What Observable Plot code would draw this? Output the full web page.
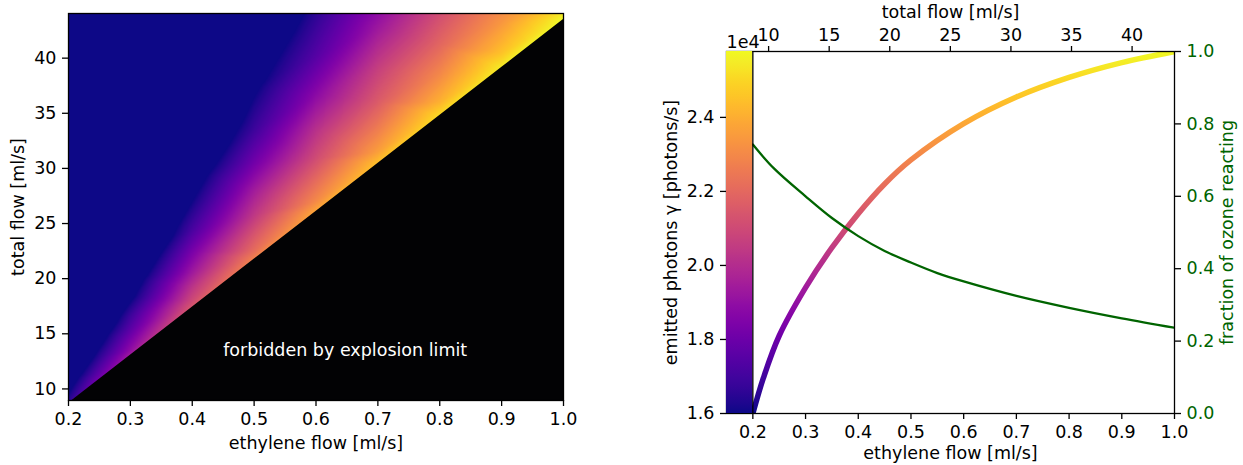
<!DOCTYPE html>
<html>
<head>
<meta charset="utf-8">
<script src="https://cdn.jsdelivr.net/npm/d3@7"></script>
<script src="https://cdn.jsdelivr.net/npm/@observablehq/plot@0.6"></script>
<style>
  html, body { margin: 0; padding: 0; background: #ffffff; }
  #wrap { position: relative; width: 1243px; height: 465px; overflow: hidden; }
  .panel { position: absolute; top: 0; }
</style>
</head>
<body>
<div id="wrap">
  <div id="left" class="panel" style="left:0px"></div>
  <div id="right" class="panel" style="left:620px"></div>
</div>
<script>
// ---------------- data ----------------
const explosionRatio = 43.5; // total flow / ethylene flow at the explosion limit

// Left heat map: samples along rays of constant total/ethylene ratio
const heatEthylene = [0.2, 0.25, 0.3, 0.4, 0.5, 0.6, 0.7, 0.8, 0.9, 1.0];
const heatRatio = [43.5, 45, 48, 51.5, 56, 61, 67, 75, 95, 210];
const heatPhotons = [
  [1.659, 1.824, 1.942, 2.147, 2.283, 2.381, 2.449, 2.508, 2.547, 2.578],
  [1.639, 1.785, 1.893, 2.098, 2.215, 2.303, 2.361, 2.410, 2.449, 2.478],
  [1.600, 1.727, 1.834, 2.029, 2.137, 2.215, 2.264, 2.303, 2.342, 2.371],
  [1.551, 1.659, 1.756, 1.932, 2.039, 2.108, 2.156, 2.195, 2.225, 2.254],
  [1.483, 1.580, 1.678, 1.834, 1.942, 2.010, 2.059, 2.088, 2.117, 2.147],
  [1.405, 1.502, 1.571, 1.717, 1.815, 1.883, 1.932, 1.961],
  [1.307, 1.405, 1.483, 1.610, 1.688, 1.746, 1.795],
  [1.210, 1.288, 1.356, 1.483, 1.571, 1.629],
  [1.014, 1.063, 1.112, 1.210, 1.307],
  [0.624]
];
const heatXTicks = [0.2, 0.3, 0.4, 0.5, 0.6, 0.7, 0.8, 0.9, 1.0];
const heatYTicks = [10, 15, 20, 25, 30, 35, 40];
const heatXDomain = [0.2, 1.0];
const heatYDomain = [8.95, 44.05];
const annotation = {ethylene: 0.45, total: 13, text: "forbidden by explosion limit"};

// Right panel: along the explosion limit
const photonsEthylene = [0.2, 0.22, 0.25, 0.3, 0.35, 0.4, 0.45, 0.5, 0.6, 0.7, 0.8, 0.9, 1.0];
const photons = [1.600, 1.696, 1.810, 1.940, 2.048, 2.140, 2.220, 2.285, 2.383, 2.455, 2.508, 2.548, 2.578]; // x 1e4
const fractionEthylene = [0.2, 0.24, 0.3, 0.35, 0.4, 0.45, 0.5, 0.55, 0.6, 0.7, 0.8, 0.9, 1.0];
const fraction = [0.743, 0.677, 0.600, 0.540, 0.490, 0.449, 0.417, 0.388, 0.365, 0.325, 0.292, 0.263, 0.237];
const rightXDomain = [0.15, 1.0];
const rightXTicks = [0.2, 0.3, 0.4, 0.5, 0.6, 0.7, 0.8, 0.9, 1.0];
const totalTicks = [10, 15, 20, 25, 30, 35, 40];
const photonTicks = [1.6, 1.8, 2.0, 2.2, 2.4];
const fractionTicks = [0.0, 0.2, 0.4, 0.6, 0.8, 1.0];

const labels = {
  ethylene: "ethylene flow [ml/s]",
  total: "total flow [ml/s]",
  photons: "emitted photons γ [photons/s]",
  fraction: "fraction of ozone reacting",
  offset: "1e4"
};

// ---------------- styles ----------------
const FONT = "DejaVu Sans";
const FS = "17.5px";
const GREEN = "#006400";
const SPINE = 1.3;
const style = {fontFamily: FONT, fontSize: FS, color: "black", background: "transparent", overflow: "visible"};

// ---------------- left panel ----------------
const heatSamples = heatRatio.flatMap((r, i) =>
  heatPhotons[i].map((v, j) => ({ethylene: heatEthylene[j], total: r * heatEthylene[j], photons: v}))
);
const boundary = heatEthylene.map(e => ({ethylene: e, total: e * explosionRatio}));

const left = Plot.plot({
  width: 600, height: 465,
  marginLeft: 68, marginRight: 37, marginTop: 13, marginBottom: 65,
  style,
  x: {domain: heatXDomain},
  y: {domain: heatYDomain},
  color: {type: "linear", scheme: "plasma", domain: [d3.min(photons), d3.max(photons)], clamp: true},
  marks: [
    Plot.raster(heatSamples, {x: "ethylene", y: "total", fill: "photons", interpolate: "barycentric"}),
    Plot.areaY(boundary, {x: "ethylene", y1: 0, y2: "total", fill: "#020204", clip: true}),
    Plot.text([annotation], {x: "ethylene", y: "total", text: "text", fill: "white", textAnchor: "start", lineAnchor: "bottom"}),
    Plot.frame({stroke: "black", strokeWidth: SPINE}),
    Plot.axisX(heatXTicks, {tickFormat: d3.format(".1f"), tickSize: 6, tickPadding: 6, strokeWidth: SPINE, label: null}),
    Plot.axisY(heatYTicks, {tickSize: 6, tickPadding: 6, strokeWidth: SPINE, label: null}),
    Plot.text([labels.ethylene], {text: d => d, frameAnchor: "bottom", dy: 43, textAnchor: "middle", lineAnchor: "middle"}),
    Plot.text([labels.total], {text: d => d, frameAnchor: "left", dx: -50.5, rotate: -90, textAnchor: "middle", lineAnchor: "middle"})
  ]
});
document.getElementById("left").appendChild(left);

// ---------------- right panel ----------------
const yMin = d3.min(photons), yMax = d3.max(photons);
const toY = f => yMin + f * (yMax - yMin);
const curveData = photonsEthylene.map((e, i) => ({ethylene: e, photons: photons[i]}));
const greenData = fractionEthylene.map((e, i) => ({ethylene: e, y: toY(fraction[i])}));
const colorbar = [{x1: rightXDomain[0], x2: photonsEthylene[0], y1: yMin, y2: yMax}];

function plasmaDefs() {
  const defs = d3.create("svg:defs");
  const g = defs.append("linearGradient").attr("id", "plasmaV")
    .attr("x1", 0).attr("y1", 1).attr("x2", 0).attr("y2", 0);
  for (let i = 0; i <= 40; i++) {
    g.append("stop").attr("offset", i / 40).attr("stop-color", d3.interpolatePlasma(i / 40));
  }
  return defs.node();
}

const right = Plot.plot({
  width: 623, height: 465,
  marginLeft: 106, marginRight: 69, marginTop: 51, marginBottom: 52,
  style,
  x: {domain: rightXDomain},
  y: {domain: [yMin, yMax]},
  marks: [
    plasmaDefs,
    Plot.line(curveData, {x: "ethylene", y: "photons", stroke: "url(#plasmaV)", strokeWidth: 5.5, curve: "catmull-rom", strokeLinecap: "butt", clip: true}),
    Plot.line(greenData, {x: "ethylene", y: "y", stroke: GREEN, strokeWidth: 2.3, curve: "catmull-rom", clip: true}),
    Plot.frame({stroke: "black", strokeWidth: SPINE}),
    Plot.rect(colorbar, {x1: "x1", x2: "x2", y1: "y1", y2: "y2", fill: "url(#plasmaV)"}),
    Plot.ruleX([photonsEthylene[0]], {y1: yMin, y2: yMax, stroke: "black", strokeWidth: SPINE}),
    Plot.axisX(rightXTicks, {tickFormat: d3.format(".1f"), tickSize: 6, tickPadding: 6, strokeWidth: SPINE, label: null}),
    Plot.axisX(totalTicks.map(t => t / explosionRatio), {anchor: "top", tickFormat: d => String(Math.round(d * explosionRatio)), tickSize: 6, tickPadding: 5, strokeWidth: SPINE, label: null}),
    Plot.axisY(photonTicks, {tickFormat: d3.format(".1f"), tickSize: 6, tickPadding: 6, strokeWidth: SPINE, label: null}),
    Plot.axisY(fractionTicks.map(toY), {anchor: "right", tickFormat: d => ((d - yMin) / (yMax - yMin)).toFixed(1), tickSize: 6, tickPadding: 6, strokeWidth: SPINE, fill: GREEN, label: null}),
    Plot.text([labels.offset], {text: d => d, frameAnchor: "top-left", dy: -4, textAnchor: "start", lineAnchor: "bottom"}),
    Plot.text([labels.total], {text: d => d, frameAnchor: "top", dy: -39, textAnchor: "middle", lineAnchor: "middle"}),
    Plot.text([labels.ethylene], {text: d => d, frameAnchor: "bottom", dy: 40, textAnchor: "middle", lineAnchor: "middle"}),
    Plot.text([labels.photons], {text: d => d, frameAnchor: "left", dx: -55, rotate: -90, textAnchor: "middle", lineAnchor: "middle"}),
    Plot.text([labels.fraction], {text: d => d, frameAnchor: "right", dx: 53, rotate: -90, textAnchor: "middle", lineAnchor: "middle", fill: GREEN})
  ]
});
document.getElementById("right").appendChild(right);
</script>
</body>
</html>
